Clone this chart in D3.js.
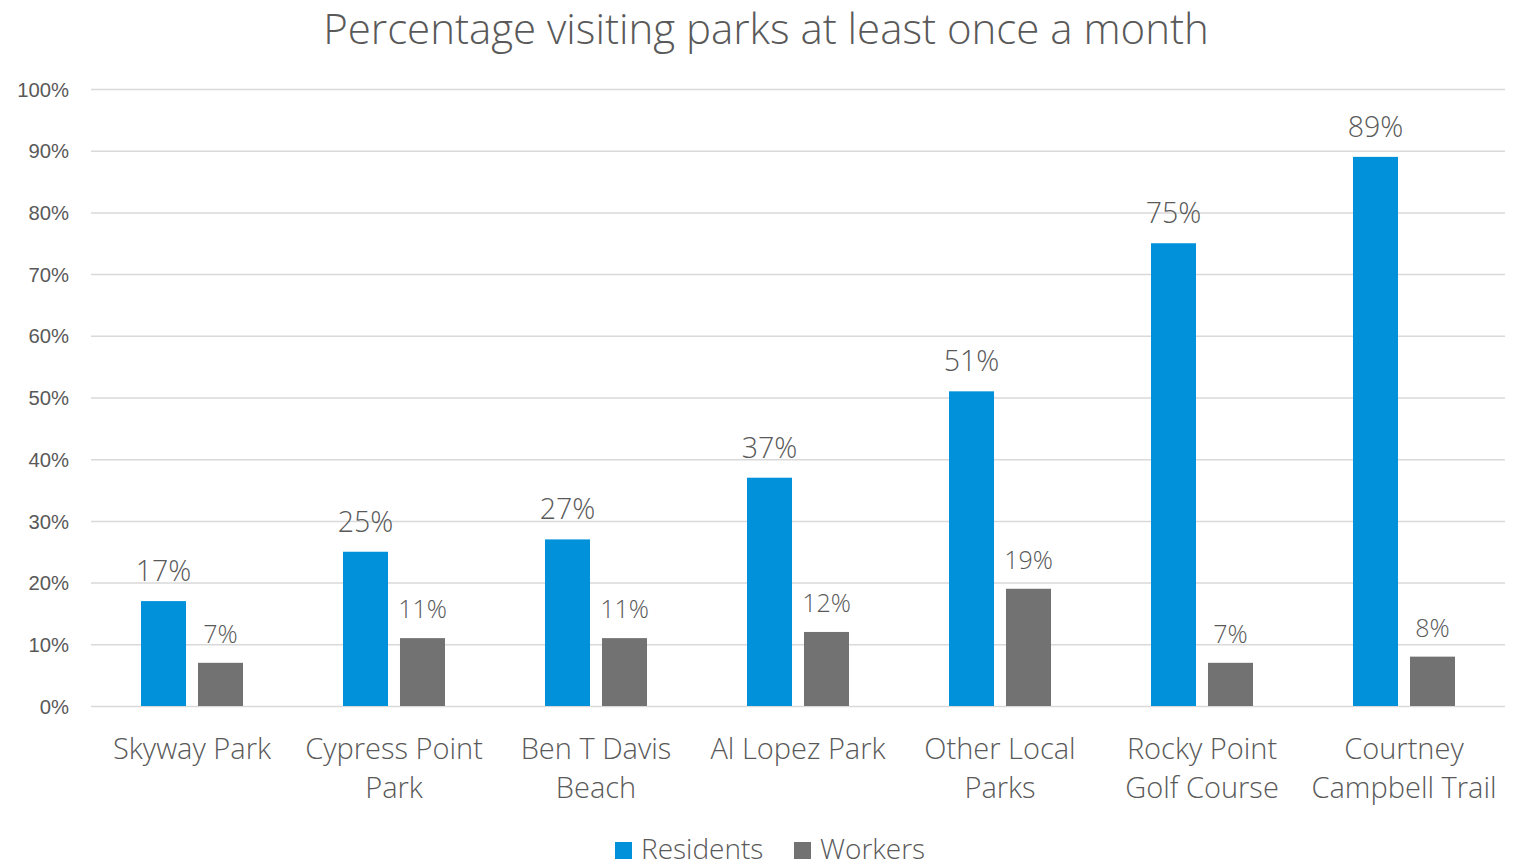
<!DOCTYPE html>
<html>
<head>
<meta charset="utf-8">
<script src="https://cdn.jsdelivr.net/npm/d3@7"></script>
<style>
  html, body { margin: 0; padding: 0; background: #fff; }
  svg { display: block; font-family: "Open Sans", "Noto Sans", sans-serif; }
</style>
</head>
<body>
<svg id="chart" width="1516" height="859"></svg>
<script>
// Parks and the share of people visiting each at least once a month
const categories = [
  ["Skyway Park"],
  ["Cypress Point", "Park"],
  ["Ben T Davis", "Beach"],
  ["Al Lopez Park"],
  ["Other Local", "Parks"],
  ["Rocky Point", "Golf Course"],
  ["Courtney", "Campbell Trail"]
];
const seriesNames = ["Residents", "Workers"];
const residents = [0.17, 0.25, 0.27, 0.37, 0.51, 0.75, 0.89];
const workers = [0.07, 0.11, 0.11, 0.12, 0.19, 0.07, 0.08];
const yTicks = [0, 0.1, 0.2, 0.3, 0.4, 0.5, 0.6, 0.7, 0.8, 0.9, 1.0];
const titleText = "Percentage visiting parks at least once a month";

const colors = { Residents: "#0091DA", Workers: "#727272" };
const textColor = "#595959";

const svg = d3.select("#chart");
const catKeys = categories.map(c => c.join(" "));

const x0 = d3.scaleBand().domain(catKeys).range([91, 1505]).paddingInner(0).paddingOuter(0);
const x1 = d3.scaleBand().domain(seriesNames).range([50, 152]).paddingInner(0.21);
const y = d3.scaleLinear().domain([0, 1]).range([706, 89]);

// title
svg.append("text")
  .attr("x", 766).attr("y", 44)
  .attr("text-anchor", "middle")
  .attr("fill", textColor)
  .style("font-size", "42px").style("font-weight", 300)
  .text(titleText);

// gridlines + y tick labels
const yAxis = d3.axisLeft(y)
  .tickValues(yTicks)
  .tickFormat(d3.format(".0%"))
  .tickSize(-(1505 - 91))
  .tickPadding(22);
const gy = svg.append("g").attr("transform", "translate(91,0)").call(yAxis);
gy.select(".domain").remove();
gy.selectAll(".tick line").attr("stroke", "#d9d9d9").attr("stroke-width", 1.5);
gy.selectAll(".tick text")
  .attr("fill", textColor)
  .style("font-size", "20.3px").style("font-weight", 300)
  .attr("dy", "0.35em");

// bars
const rows = catKeys.map((k, i) => ({ key: k, values: [
  { s: "Residents", v: residents[i] },
  { s: "Workers", v: workers[i] }
]}));

const groups = svg.append("g").selectAll("g")
  .data(rows).join("g")
  .attr("transform", d => `translate(${x0(d.key)},0)`);

groups.selectAll("rect")
  .data(d => d.values).join("rect")
  .attr("x", d => x1(d.s))
  .attr("width", x1.bandwidth())
  .attr("y", d => y(d.v))
  .attr("height", d => y(0) - y(d.v))
  .attr("fill", d => colors[d.s]);

// value labels
groups.selectAll("text.val")
  .data(d => d.values).join("text")
  .attr("class", "val")
  .attr("x", d => x1(d.s) + x1.bandwidth() / 2)
  .attr("y", d => y(d.v) - 20)
  .attr("text-anchor", "middle")
  .attr("fill", textColor)
  .style("font-weight", 300)
  .style("font-size", d => d.s === "Residents" ? "28.5px" : "25px")
  .text(d => d3.format(".0%")(d.v));

// category labels
const xl = svg.append("g").selectAll("text")
  .data(categories).join("text")
  .attr("x", (d, i) => x0(catKeys[i]) + x0.bandwidth() / 2)
  .attr("y", 759)
  .attr("text-anchor", "middle")
  .attr("fill", textColor)
  .style("font-size", "29px").style("font-weight", 300);
xl.selectAll("tspan")
  .data(d => d).join("tspan")
  .attr("x", function() { return this.parentNode.getAttribute("x"); })
  .attr("dy", (d, i) => i === 0 ? 0 : 38.5)
  .text(d => d);

// legend
const legendItems = [
  { name: "Residents", x: 615 },
  { name: "Workers", x: 794 }
];
const lg = svg.append("g").selectAll("g")
  .data(legendItems).join("g")
  .attr("transform", d => `translate(${d.x},0)`);
lg.append("rect")
  .attr("x", 0).attr("y", 842).attr("width", 17).attr("height", 17)
  .attr("fill", d => colors[d.name]);
lg.append("text")
  .attr("x", 26).attr("y", 859)
  .attr("fill", textColor)
  .style("font-size", "28px").style("font-weight", 300)
  .text(d => d.name);
</script>
</body>
</html>
